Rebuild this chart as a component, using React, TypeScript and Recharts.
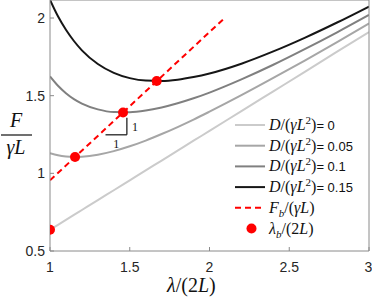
import { ComposedChart, Line, XAxis, YAxis, ReferenceLine, Legend } from 'recharts'

// normalised wavelength and force
const lambda = [1, 1.05, 1.1, 1.15, 1.2, 1.3, 1.4, 1.5, 1.6, 1.7, 1.8, 1.9, 2.0, 2.2, 2.4, 2.6, 2.8, 3.0]
const forceD0 = [0.637, 0.668, 0.7, 0.732, 0.764, 0.828, 0.891, 0.955, 1.019, 1.082, 1.146, 1.21, 1.273, 1.401, 1.528, 1.655, 1.783, 1.91]
const forceD005 = [1.13, 1.116, 1.108, 1.105, 1.107, 1.12, 1.143, 1.174, 1.211, 1.253, 1.298, 1.346, 1.397, 1.503, 1.614, 1.728, 1.845, 1.965]
const forceD010 = [1.624, 1.564, 1.516, 1.478, 1.449, 1.412, 1.395, 1.394, 1.404, 1.424, 1.451, 1.483, 1.52, 1.605, 1.699, 1.801, 1.908, 2.02]
const forceD015 = [2.117, 2.011, 1.924, 1.852, 1.792, 1.704, 1.647, 1.613, 1.597, 1.595, 1.603, 1.62, 1.643, 1.706, 1.785, 1.874, 1.971, 2.074]

const boundaryLambda = [1, 2.1]
const boundaryForce = [0.955, 2.005]
const pointLambda = [1, 1.157, 1.458, 1.669]
const pointForce = [0.637, 1.105, 1.392, 1.594]

const xTicks = [1, 1.5, 2, 2.5, 3]
const yTicks = [0.5, 1, 1.5, 2]
const stiffness = ['0', '0.05', '0.1', '0.15']
const curveColors = ['#cbcbcb', '#a6a6a6', '#808080', '#161616']

const MATH = "'Liberation Serif', 'DejaVu Serif', serif"
const SANS = "'Liberation Sans', Arial, sans-serif"
const AXIS = '#8a8a8a'
const RED = '#ff0000'

const toPoints = (xs: number[], ys: number[]) => xs.map((x, i) => ({ x, y: ys[i] }))

const curves = [forceD0, forceD005, forceD010, forceD015]

function XLabel() {
  return (
    <text x={167} y={292} fontFamily={MATH} fontSize={20} fill="#111">
      <tspan fontStyle="italic">λ</tspan>
      <tspan>/(2</tspan>
      <tspan fontStyle="italic">L</tspan>
      <tspan>)</tspan>
    </text>
  )
}

function YLabel() {
  return (
    <g fill="#111" fontFamily={MATH} fontSize={20}>
      <text x={16} y={127} textAnchor="middle" fontStyle="italic">F</text>
      <line x1={1} x2={32} y1={135} y2={135} stroke="#111" strokeWidth={1.2} />
      <text x={16} y={154} textAnchor="middle" fontStyle="italic">γL</text>
    </g>
  )
}

function LegendBox() {
  const rowY = (i: number) => 12 + i * 20.7
  return (
    <svg width={142} height={130} style={{ overflow: 'visible' }}>
      {stiffness.map((d, i) => (
        <g key={d}>
          <line x1={5} x2={35} y1={rowY(i)} y2={rowY(i)} stroke={curveColors[i]} strokeWidth={2} />
          <text x={39} y={rowY(i) + 5} fontFamily={MATH} fontSize={16} fill="#111">
            <tspan fontStyle="italic">D</tspan>
            <tspan>/(</tspan>
            <tspan fontStyle="italic">γL</tspan>
            <tspan dy={-6} fontSize={11}>2</tspan>
            <tspan dy={6}>)</tspan>
            <tspan fontFamily={SANS} fontSize={13}>= {d}</tspan>
          </text>
        </g>
      ))}
      <line x1={5} x2={35} y1={rowY(4)} y2={rowY(4)} stroke={RED} strokeWidth={2} strokeDasharray="6 4" />
      <text x={39} y={rowY(4) + 5} fontFamily={MATH} fontSize={16} fill="#111">
        <tspan fontStyle="italic">F</tspan>
        <tspan dy={4} fontSize={11} fontStyle="italic">b</tspan>
        <tspan dy={-4}>/(</tspan>
        <tspan fontStyle="italic">γL</tspan>
        <tspan>)</tspan>
      </text>
      <circle cx={21.5} cy={rowY(5)} r={5} fill={RED} />
      <text x={39} y={rowY(5) + 5} fontFamily={MATH} fontSize={16} fill="#111">
        <tspan fontStyle="italic">λ</tspan>
        <tspan dy={4} fontSize={11} fontStyle="italic">b</tspan>
        <tspan dy={-4}>/(2</tspan>
        <tspan fontStyle="italic">L</tspan>
        <tspan>)</tspan>
      </text>
    </svg>
  )
}

export default function App() {
  const tickFont = { fill: '#262626', fontSize: 14, fontFamily: SANS }
  return (
    <div style={{ position: 'absolute', left: 0, top: 0, background: '#fff' }}>
      <ComposedChart width={372} height={299} margin={{ top: -1, right: 2, bottom: 0, left: 0 }}>
        <XAxis
          dataKey="x"
          type="number"
          domain={[1, 3]}
          ticks={xTicks}
          allowDataOverflow
          height={48}
          stroke={AXIS}
          tickSize={-4}
          tickMargin={15}
          tick={tickFont}
          label={<XLabel />}
        />
        <XAxis
          xAxisId="top"
          orientation="top"
          dataKey="x"
          type="number"
          domain={[1, 3]}
          ticks={xTicks}
          allowDataOverflow
          height={1}
          stroke={AXIS}
          tickSize={-4}
          tick={false}
        />
        <YAxis
          type="number"
          domain={[0.5, 2.116]}
          ticks={yTicks}
          allowDataOverflow
          width={50}
          stroke={AXIS}
          tickSize={-4}
          tickMargin={9}
          tick={tickFont}
          label={<YLabel />}
        />
        <YAxis
          yAxisId="right"
          orientation="right"
          type="number"
          domain={[0.5, 2.116]}
          ticks={yTicks}
          allowDataOverflow
          width={1}
          stroke={AXIS}
          tickSize={-4}
          tick={false}
        />

        {curves.map((ys, i) => (
          <Line
            key={stiffness[i]}
            data={toPoints(lambda, ys)}
            dataKey="y"
            type="monotone"
            stroke={curveColors[i]}
            strokeWidth={2}
            dot={false}
            isAnimationActive={false}
          />
        ))}

        <Line
          data={toPoints(boundaryLambda, boundaryForce)}
          dataKey="y"
          type="linear"
          stroke={RED}
          strokeWidth={2}
          strokeDasharray="6 4"
          dot={false}
          isAnimationActive={false}
        />

        {/* slope triangle */}
        <ReferenceLine
          segment={[{ x: 1.482, y: 1.358 }, { x: 1.482, y: 1.248 }]}
          stroke="#111"
          strokeWidth={1.2}
          label={{ value: '1', position: 'right', fontSize: 12, fontFamily: MATH, fill: '#111' }}
        />
        <ReferenceLine
          segment={[{ x: 1.348, y: 1.248 }, { x: 1.482, y: 1.248 }]}
          stroke="#111"
          strokeWidth={1.2}
          label={{ value: '1', position: 'bottom', fontSize: 12, fontFamily: MATH, fill: '#111' }}
        />

        <Line
          data={toPoints(pointLambda, pointForce)}
          dataKey="y"
          stroke="none"
          dot={{ r: 5, fill: RED, stroke: RED, strokeWidth: 0 }}
          isAnimationActive={false}
        />

        <Legend
          layout="horizontal"
          align="center"
          verticalAlign="middle"
          wrapperStyle={{ left: 230, top: 113, width: 142 }}
          content={() => <LegendBox />}
        />
      </ComposedChart>
    </div>
  )
}
